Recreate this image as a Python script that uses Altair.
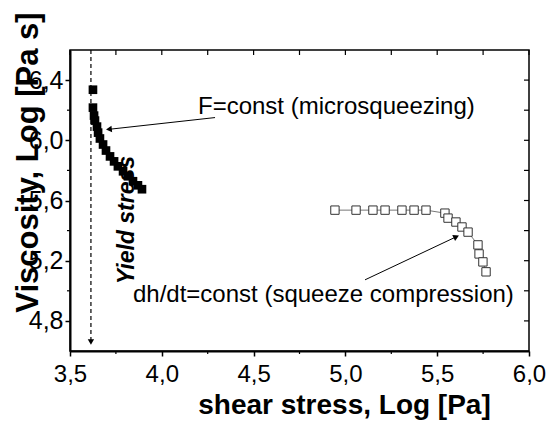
import altair as alt
import pandas as pd

# F = const (microsqueezing) -- filled squares
solid_x = [3.625, 3.625, 3.631, 3.636, 3.647, 3.653, 3.663, 3.680, 3.696, 3.718,
           3.740, 3.761, 3.789, 3.816, 3.843, 3.870, 3.892]
solid_y = [6.336, 6.217, 6.164, 6.131, 6.091, 6.051, 6.012, 5.972, 5.932, 5.893,
           5.860, 5.827, 5.794, 5.761, 5.728, 5.701, 5.675]

# dh/dt = const (squeeze compression) -- open squares
open_x = [4.943, 5.058, 5.150, 5.216, 5.308, 5.374, 5.439, 5.542, 5.559, 5.602,
          5.635, 5.668, 5.722, 5.728, 5.749, 5.766]
open_y = [5.536, 5.536, 5.536, 5.536, 5.536, 5.536, 5.536, 5.516, 5.483, 5.457,
          5.424, 5.390, 5.305, 5.245, 5.192, 5.126]

x_major = [3.5, 4.0, 4.5, 5.0, 5.5, 6.0]
x_minor = [3.75, 4.25, 4.75, 5.25, 5.75]
y_major = [4.8, 5.2, 5.6, 6.0, 6.4]
y_minor = [5.0, 5.4, 5.8, 6.2]

yield_x = [3.614]
yield_top = [6.6]
yield_bottom = [4.66]

ann_text = ["F=const (microsqueezing)", "dh/dt=const (squeeze compression)"]
ann_tx = [4.197, 3.843]
ann_ty = [6.177, 4.928]
arr_x1 = [4.290, 5.107]
arr_y1 = [6.151, 5.073]
arr_x2 = [3.712, 5.604]
arr_y2 = [6.073, 5.359]
arr_angle = [264, 65]

FONT = "Liberation Sans"
LBL = "replace(format(datum.value, '.1f'), '.', ',')"
W, H = 459, 301

xs = alt.Scale(domain=[3.5, 6.0], nice=False, zero=False)
ys = alt.Scale(domain=[4.6, 6.6], nice=False, zero=False)

solid = pd.DataFrame({"x": solid_x, "y": solid_y})
opn = pd.DataFrame({"x": open_x, "y": open_y, "i": list(range(len(open_x)))})
ydf = pd.DataFrame({"x": yield_x, "y": yield_top, "y2": yield_bottom})
yhead = pd.DataFrame({"x": yield_x, "y": yield_bottom})
ann = pd.DataFrame({"x": ann_tx, "y": ann_ty, "t": ann_text})
arr = pd.DataFrame({"x": arr_x1, "y": arr_y1, "x2": arr_x2, "y2": arr_y2})
hd = pd.DataFrame({"x": arr_x2, "y": arr_y2, "a": arr_angle})
xall = pd.DataFrame({"x": sorted(x_major + x_minor)})
yall = pd.DataFrame({"y": sorted(y_major + y_minor)})
xmin = pd.DataFrame({"x": x_minor})
ymin = pd.DataFrame({"y": y_minor})

X = alt.X("x:Q", scale=xs)
Y = alt.Y("y:Q", scale=ys)

solid_pts = alt.Chart(solid).mark_square(size=75, color="black", opacity=1).encode(
    x=alt.X("x:Q", scale=xs, axis=alt.Axis(
        orient="bottom", values=x_major, labelExpr=LBL, title="shear stress, Log [Pa]",
        tickSize=5, labelPadding=6, labelFontSize=24, labelFlush=False, grid=False,
        domainColor="black", domainWidth=2, tickColor="black", tickWidth=1.5,
        titleFontSize=28, titleFontWeight="bold", titleX=274, titleY=62,
        titleBaseline="alphabetic", titleAlign="center", titleAnchor="start")),
    y=alt.Y("y:Q", scale=ys, axis=alt.Axis(
        orient="left", values=y_major, labelExpr=LBL, title="Viscosity, Log [Pa s]",
        tickSize=5, labelPadding=2, labelFontSize=25, labelFlush=False, grid=False,
        domainColor="black", domainWidth=2, tickColor="black", tickWidth=1.5,
        titleFontSize=31, titleFontWeight="bold", titleX=-33, titleY=112,
        titleBaseline="alphabetic", titleAlign="center", titleAnchor="start", titleAngle=270)),
)

open_line = alt.Chart(opn).mark_line(color="#777", strokeWidth=1).encode(
    x=X, y=Y, order="i:O",
)
open_pts = alt.Chart(opn).mark_square(size=70, fill="white", stroke="#333",
                                      strokeWidth=1, opacity=1).encode(x=X, y=Y)

# mirrored inward ticks on top and right, minor ticks on bottom and left
top_ticks = alt.Chart(xall).mark_rule(color="black", strokeWidth=1.2).encode(
    x=X, y=alt.value(0), y2=alt.value(5))
right_ticks = alt.Chart(yall).mark_rule(color="black", strokeWidth=1.2).encode(
    y=Y, x=alt.value(W), x2=alt.value(W - 5))
bot_minor = alt.Chart(xmin).mark_rule(color="black", strokeWidth=1.2).encode(
    x=X, y=alt.value(H), y2=alt.value(H + 3))
left_minor = alt.Chart(ymin).mark_rule(color="black", strokeWidth=1.2).encode(
    y=Y, x=alt.value(0), x2=alt.value(-3))

yield_rule = alt.Chart(ydf).mark_rule(color="black", strokeWidth=1.2, strokeDash=[4, 3]).encode(
    x=X, y=Y, y2="y2:Q",
)
yield_head = alt.Chart(yhead).mark_point(shape="triangle-down", filled=True, color="black",
                                         size=40, opacity=1).encode(x=X, y=Y)
yield_txt = alt.Chart(pd.DataFrame({"x": [3.81], "y": [5.47], "t": ["Yield stress"]})).mark_text(
    font=FONT, fontSize=23, fontWeight="bold", fontStyle="italic", angle=270,
    align="center", baseline="middle", color="black").encode(x=X, y=Y, text="t:N")

arrows = alt.Chart(arr).mark_rule(color="black", strokeWidth=1).encode(
    x=X, y=Y, x2="x2:Q", y2="y2:Q",
)
heads = alt.Chart(hd).mark_point(shape="triangle-up", filled=True, color="black", size=45,
                                 opacity=1).encode(
    x=X, y=Y, angle=alt.Angle("a:Q", scale=None),
)
labels = alt.Chart(ann).mark_text(font=FONT, fontSize=24, align="left",
                                  baseline="alphabetic", color="black").encode(
    x=X, y=Y, text="t:N",
)

chart = alt.layer(
    solid_pts, open_line, open_pts, top_ticks, right_ticks, bot_minor, left_minor,
    yield_rule, yield_head, yield_txt, arrows, heads, labels
).properties(
    width=W, height=H,
    autosize=alt.AutoSizeParams(type="none"),
    padding={"left": 70, "top": 50, "right": 23, "bottom": 70},
    background="white",
).configure_view(stroke="black", strokeWidth=1.5).configure_axis(
    labelFont=FONT, titleFont=FONT, labelColor="black", titleColor="black"
)

chart.save("out.html", embed_options={"renderer": "svg", "actions": False})
